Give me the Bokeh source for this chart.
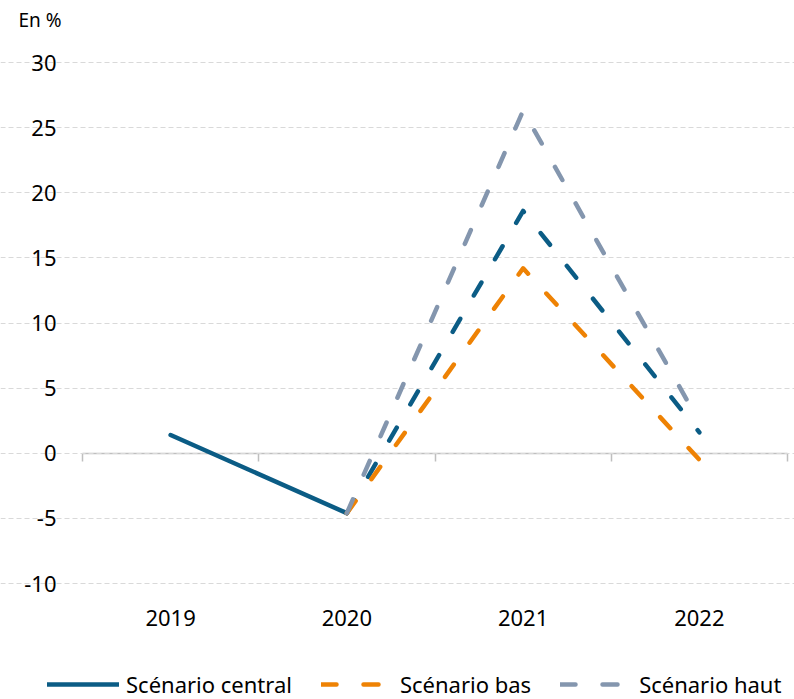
from bokeh.plotting import figure
from bokeh.models import (Range1d, FixedTicker, LinearAxis, Grid, Label, Legend, LegendItem)
from bokeh.embed import file_html
from bokeh.resources import INLINE

# Growth rate, in %
years = ["2019", "2020", "2021", "2022"]
central_hist = [1.4, -4.6]            # 2019-2020, observed
central_proj = [-4.6, 18.6, 1.6]      # 2020-2022, central scenario
bas_proj = [-4.6, 14.2, -0.5]         # 2020-2022, low scenario
haut_proj = [-4.6, 26.3, 2.4]         # 2020-2022, high scenario

y_ticks = [-10, -5, 0, 5, 10, 15, 20, 25, 30]
series_names = ["Scénario central", "Scénario bas", "Scénario haut"]

C_CENTRAL = "#0B5C85"
C_BAS = "#EE8204"
C_HAUT = "#8496AE"
C_AXIS = "#BFBFBF"
FONT = "Noto Sans"
LW = 4.5
DASH = "15 27"

# page geometry: the whole canvas is the plotting frame, axes are pinned inside it
W, H = 794, 699
BAND_L, BAND_R = 82, 787     # left/right pixel edges of the category band
TOP_PX, BOT_PX = 62, 583     # pixel rows of the highest and lowest gridlines

ux = len(years) / (BAND_R - BAND_L)
uy = (y_ticks[-1] - y_ticks[0]) / (BOT_PX - TOP_PX)
x_range = Range1d(-BAND_L * ux, len(years) + (W - BAND_R) * ux)
y_range = Range1d(y_ticks[0] - (H - BOT_PX) * uy, y_ticks[-1] + TOP_PX * uy)

xs = [i + 0.5 for i in range(len(years))]
xs_hist = xs[:2]
xs_proj = xs[1:]
bounds = list(range(len(years) + 1))

p = figure(width=W, height=H, output_backend="svg", toolbar_location=None,
           x_range=x_range, y_range=y_range,
           x_axis_location=None, y_axis_location=None,
           min_border=0, min_border_left=0, min_border_right=0,
           min_border_top=0, min_border_bottom=0)
p.outline_line_color = None
p.background_fill_color = "white"
p.border_fill_color = "white"
p.grid.visible = False

# dashed horizontal gridlines across the category band
p.add_layout(Grid(dimension=1, ticker=FixedTicker(ticks=y_ticks),
                  bounds=(0, len(years)), grid_line_color="#D9D9D9",
                  grid_line_dash="5 3", grid_line_width=1))

# value labels on the left of the band
yax = LinearAxis(fixed_location=0, ticker=FixedTicker(ticks=y_ticks),
                 major_label_overrides={t: str(t) for t in y_ticks},
                 axis_line_color=None, major_tick_line_color=None,
                 minor_tick_line_color=None, major_label_standoff=20,
                 major_label_text_font=FONT, major_label_text_font_size="22px",
                 major_label_text_color="#000000")
p.add_layout(yax, "left")

# zero line with category separators
zax = LinearAxis(fixed_location=0, ticker=FixedTicker(ticks=bounds),
                 bounds=(0, len(years)), axis_line_color=C_AXIS, axis_line_width=1.5,
                 major_tick_line_color=C_AXIS, major_tick_line_width=1.5,
                 major_tick_in=0, major_tick_out=8, minor_tick_line_color=None,
                 major_label_text_alpha=0, level="underlay")
p.add_layout(zax, "below")

# year labels under the lowest gridline
xax = LinearAxis(fixed_location=y_ticks[0], ticker=FixedTicker(ticks=xs),
                 major_label_overrides={x: y for x, y in zip(xs, years)},
                 axis_line_color=None, major_tick_line_color=None,
                 minor_tick_line_color=None, major_label_standoff=20,
                 major_label_text_font=FONT, major_label_text_font_size="22px",
                 major_label_text_color="#000000")
p.add_layout(xax, "below")

style = dict(line_width=LW, line_cap="round", line_join="round")
r_central = p.line(xs_hist, central_hist, line_color=C_CENTRAL, **style)
p.line(xs_proj, central_proj, line_color=C_CENTRAL, line_dash=DASH, **style)
r_bas = p.line(xs_proj, bas_proj, line_color=C_BAS, line_dash=DASH, **style)
r_haut = p.line(xs_proj, haut_proj, line_color=C_HAUT, line_dash=DASH, **style)

# unit caption, top left
p.add_layout(Label(x=18, y=H - 19.5, x_units="screen", y_units="screen", text="En %",
                   text_font=FONT, text_font_size="19px", text_color="#000000",
                   text_baseline="middle"))

legend = Legend(items=[LegendItem(label=n, renderers=[r])
                       for n, r in zip(series_names, [r_central, r_bas, r_haut])],
                orientation="horizontal", location=(47, 0),
                glyph_width=72, glyph_height=30, label_height=30,
                label_standoff=7, spacing=29,
                padding=0, margin=0, border_line_color=None,
                background_fill_alpha=0,
                label_text_font=FONT, label_text_font_size="22px",
                label_text_color="#000000")
p.add_layout(legend)

open("out.html", "w").write(file_html(p, INLINE))
